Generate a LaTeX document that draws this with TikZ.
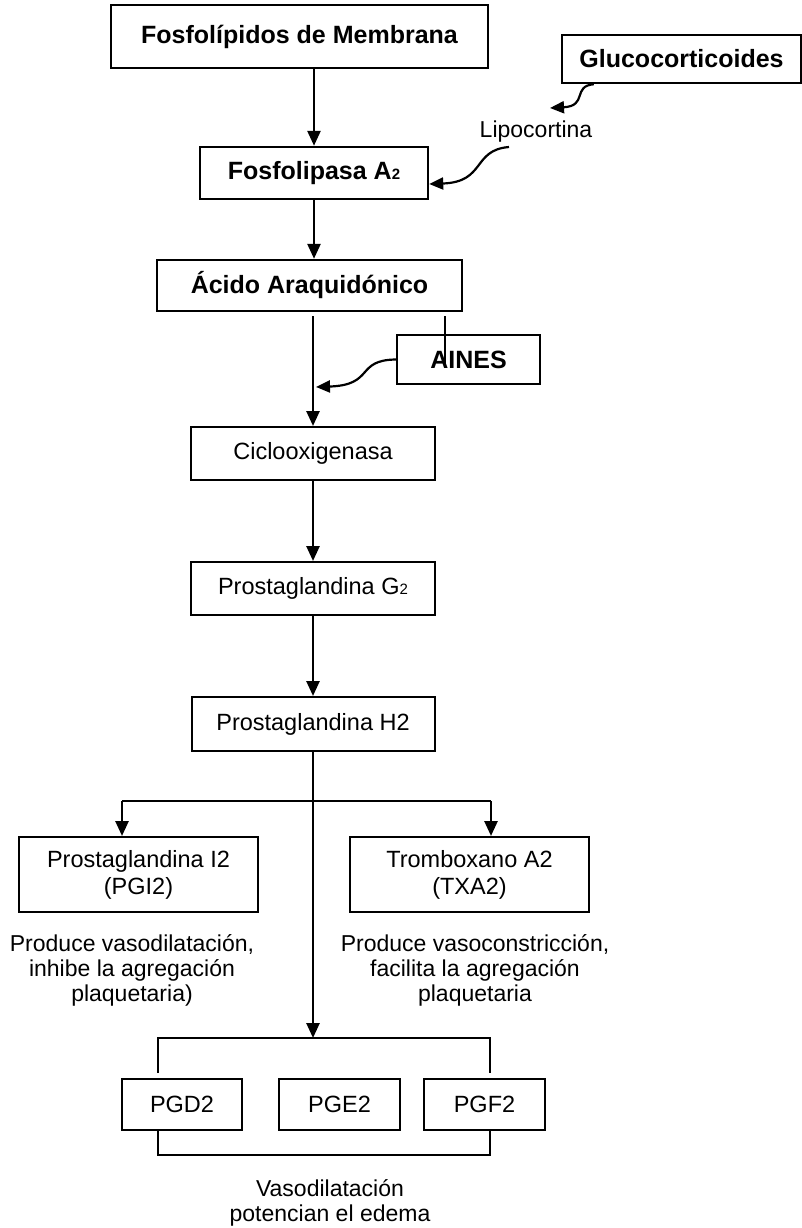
\documentclass[tikz,border=0pt]{standalone}
\usepackage{fontspec}
\setmainfont{Liberation Sans}
\usetikzlibrary{arrows.meta}
\newcommand{\subdos}{{\fontsize{15}{15}\selectfont 2}}

\begin{document}
\begin{tikzpicture}[x=1pt,y=-1pt,
  box/.style={draw,line width=2pt,inner sep=0pt,align=center,font=\fontsize{23.5}{27}\selectfont},
  boldbox/.style={box,line width=2.4pt,font=\fontsize{25}{28}\selectfont\bfseries},
  arr/.style={line width=2.6pt,-{Triangle[length=15pt,width=13pt]}},
  curl/.style={line width=2.2pt,-{Triangle[length=14pt,width=12pt]}},
  note/.style={inner sep=0pt,align=center,font=\fontsize{23}{25}\selectfont}]
\useasboundingbox (0,0) rectangle (801,1228);
% main column
\node[boldbox,minimum width=377pt,minimum height=63pt] (fosfo) at (299.5,36.5) {Fosfolípidos de Membrana};
\node[boldbox,minimum width=239pt,minimum height=48pt] (gluco) at (681.5,59) {Glucocorticoides};
\node[note] (lipo) at (536,132) {Lipocortina};
\node[boldbox,minimum width=228pt,minimum height=52pt] (pla) at (314,173) {Fosfolipasa A\subdos};
\node[boldbox,minimum width=305pt,minimum height=51pt] (acido) at (309.5,285.5) {Ácido Araquidónico};
\node[boldbox,minimum width=143pt,minimum height=49pt] (aines) at (468.5,359.5) {AINES};
\node[box,minimum width=244pt,minimum height=53pt] (ciclo) at (313,453.5) {Ciclooxigenasa};
\node[box,minimum width=244pt,minimum height=53pt] (pgg) at (313,588.5) {Prostaglandina G\subdos};
\node[box,minimum width=243pt,minimum height=54pt] (pgh) at (313,724) {Prostaglandina H2};
% two branches
\node[box,minimum width=239pt,minimum height=75pt] (pgi) at (138.5,874.5) {Prostaglandina I2\\(PGI2)};
\node[box,minimum width=239pt,minimum height=75pt] (txa) at (469.5,874.5) {Tromboxano A2\\(TXA2)};
\node[note] (efpgi) at (132,970) {Produce vasodilatación,\\inhibe la agregación\\plaquetaria)};
\node[note] (eftxa) at (475,970) {Produce vasoconstricción,\\facilita la agregación\\plaquetaria};
% bottom group
\node[box,minimum width=120pt,minimum height=51pt] (pgd) at (182,1104.5) {PGD2};
\node[box,minimum width=121pt,minimum height=51pt] (pge) at (339.5,1104.5) {PGE2};
\node[box,minimum width=121pt,minimum height=51pt] (pgf) at (484.5,1104.5) {PGF2};
\node[note] (vaso) at (330,1203) {Vasodilatación\\potencian el edema};

\coordinate (lipoin) at (550,108);
\coordinate (lipoout) at (509,147);
\coordinate (inh) at (316,387);
\coordinate (cut) at (445,367);
\coordinate (split) at (313,801);
\coordinate (brl) at (158,1038);
\coordinate (brr) at (490,1038);
\coordinate (bry) at (0,1155);

\draw[arr] (fosfo.south -| pla) -- (pla.north);
\draw[arr] (pla.south) -- (pla.south |- acido.north);
\draw[arr] ([yshift=-4pt]acido.south -| ciclo) -- (ciclo.north);
\draw[line width=1.2pt] ([yshift=-4pt]acido.south -| cut) -- (cut);
\draw[arr] (ciclo.south) -- (pgg.north);
\draw[arr] (pgg.south) -- (pgh.north);
\draw[arr] (pgh.south) -- (pgh.south |- brl);
\draw[line width=2.4pt] (122,801) -- (split) -- (491,801);
\draw[arr] (122,801) -- (122,0 |- pgi.north);
\draw[arr] (491,801) -- (491,0 |- txa.north);

% curved inhibitor arrows
\draw[curl] ([xshift=33pt]gluco.south west) .. controls (572,86) and (588,106) .. (lipoin);
\draw[curl] (lipoout) .. controls (472,150) and (486,182) .. ([yshift=-11pt]pla.east);
\draw[curl] (aines.west) .. controls (355,360) and (375,385) .. (inh);

% brackets
\draw[line width=2.2pt] (brl |- 0,1073) -- (brl) -- (brr) -- (brr |- 0,1073);
\draw[line width=2.2pt] (brl |- pgd.south) -- (brl |- bry) -- (brr |- bry) -- (brr |- pgf.south);
\end{tikzpicture}
\end{document}
